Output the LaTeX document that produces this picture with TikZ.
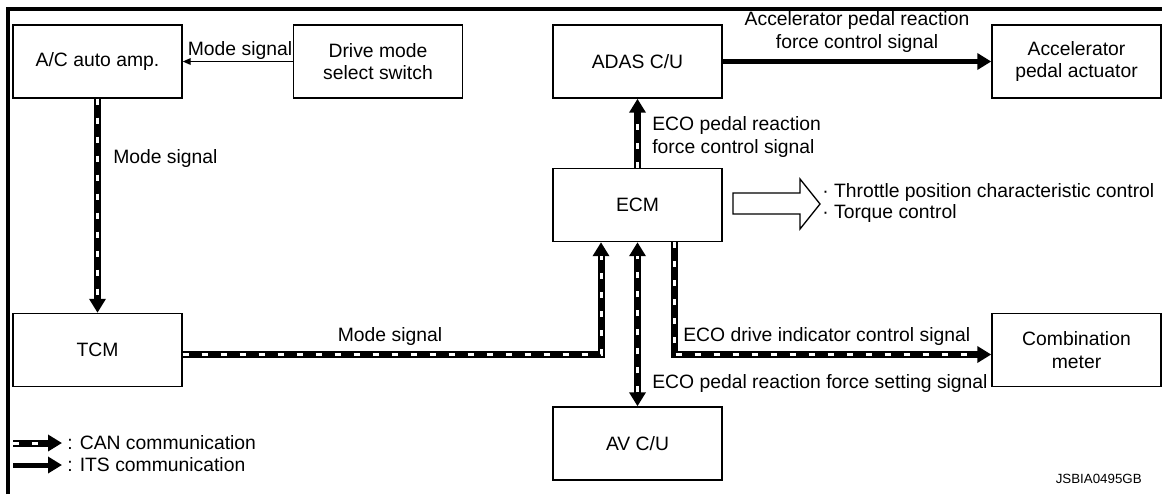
\documentclass[tikz,border=0pt]{standalone}
\usepackage{fontspec}
\setmainfont{Liberation Sans}
\usetikzlibrary{arrows.meta,calc}
\begin{document}
\begin{tikzpicture}[x=0.75pt,y=-0.75pt,
  font=\fontsize{14.5}{17}\selectfont,
  box/.style={draw, line width=1.1pt, minimum width=126.75pt, minimum height=54.75pt, align=center, inner sep=0pt},
  lbl/.style={inner sep=0pt, align=left},
  tipb/.tip={Triangle[length=10.5pt,width=12pt]},
  its/.style={line width=3.75pt, -tipb},
  can/.style={line width=5.25pt, -tipb, postaction={draw=white, line width=2.25pt, dash pattern=on 4.5pt off 9.75pt, shorten >=10.5pt, -}},
  cantwo/.style={line width=5.25pt, tipb-tipb, postaction={draw=white, line width=2.25pt, dash pattern=on 4.5pt off 9.75pt, shorten >=10.5pt, shorten <=10.5pt, -}},
  thinarrow/.style={line width=1pt, -{Triangle[length=6pt,width=5pt]}},
]
\useasboundingbox (0,0) rectangle (1162,494);
% frame
\draw[line width=3pt] (8,494) -- (8,9) -- (1162,9);

% boxes
\node[box] (ac)    at (97.5,61.5)  {A/C auto amp.};
\node[box] (drive) at (378,61.5) {Drive mode\\select switch};
\node[box] (adas)  at (637.5,61.5) {ADAS C/U};
\node[box] (accel) at (1076.5,61.5) {Accelerator\\pedal actuator};
\node[box] (ecm)   at (637.5,205) {ECM};
\node[box] (tcm)   at (97.5,350)   {TCM};
\node[box] (comb)  at (1076.5,350) {Combination\\meter};
\node[box] (av)    at (637.5,443.5) {AV C/U};

% connectors
\draw[thinarrow] (drive.west) -- (ac.east);
\draw[can] (ac.south) -- (tcm.north);
\draw[its] (adas.east) -- (accel.west);
\draw[can] (ecm.north) -- (adas.south);
\draw[can] ($(tcm.east)+(0,4.5)$) -| ($(ecm.south)+(-36.5,0)$);
\draw[cantwo] (av.north) -- (ecm.south);
\draw[can] ($(ecm.south)+(36.5,0)$) |- ($(comb.west)+(0,4.5)$);

% hollow arrow
\draw[line width=1pt, line join=miter] (733,193) -- (800,193) -- (800,179) -- (820,204) -- (800,229) -- (800,214) -- (733,214) -- cycle;

% labels
\node[lbl] (lms1) at (240,50) {Mode signal};
\node[lbl, anchor=west] (lms2) at (113,158) {Mode signal};
\node[lbl, align=center] (lacc) at (857,32) {Accelerator pedal reaction\\force control signal};
\node[lbl, anchor=west] (leco1) at (652,137) {ECO pedal reaction\\force control signal};
\node[lbl, anchor=west, font=\fontsize{14.5}{15.5}\selectfont] (lthr) at (822,203) {· Throttle position characteristic control\\· Torque control};
\node[lbl] (lms3) at (390,336) {Mode signal};
\node[lbl, anchor=west] (leco2) at (683,336) {ECO drive indicator control signal};
\node[lbl, anchor=west] (leco3) at (652,383) {ECO pedal reaction force setting signal};

% legend
\coordinate (c1) at (13,443);
\coordinate (c2) at (62,443);
\coordinate (i1) at (13,465);
\coordinate (i2) at (62,465);
\draw[can] (c1) -- (c2);
\draw[its] (i1) -- (i2);
\node[lbl, anchor=west] (lcan) at (67,443) {: CAN communication};
\node[lbl, anchor=west] (lits) at (67,465) {: ITS communication};

\node[lbl, anchor=east, font=\fontsize{10}{12}\selectfont] (code) at (1142,479) {JSBIA0495GB};
\end{tikzpicture}
\end{document}
